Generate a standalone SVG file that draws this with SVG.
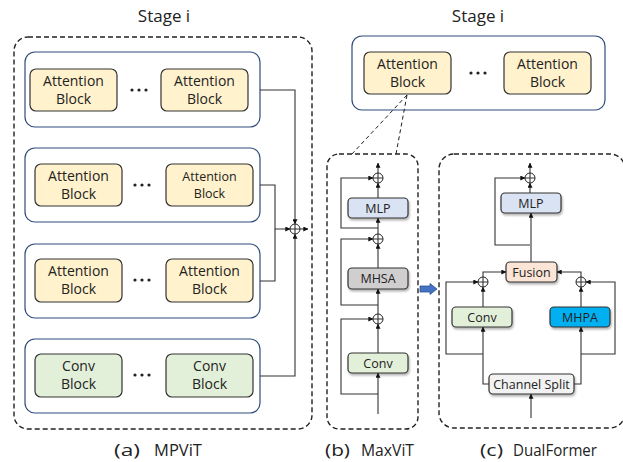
<svg xmlns="http://www.w3.org/2000/svg" width="623" height="462" viewBox="0 0 623 462">
<defs>
<marker id="ah" viewBox="0 0 8 8" refX="7.5" refY="4" markerWidth="5" markerHeight="5" orient="auto" markerUnits="userSpaceOnUse">
<path d="M0,0 L8,4 L0,8 z" fill="#111"/>
</marker>
<filter id="sh" x="-20%" y="-30%" width="140%" height="170%">
<feDropShadow dx="1" dy="2" stdDeviation="1" flood-color="#000" flood-opacity="0.3"/>
</filter>
</defs>
<style>
text{font-family:"Open Sans","Noto Sans","Liberation Sans",sans-serif;fill:#222;text-anchor:middle}
.title{font-size:17px}
.cap{font-size:15.5px;text-anchor:start}
.bt{font-size:14px}
.bts{font-size:12.5px}
.st{font-size:12.5px}
.dash{fill:none;stroke:#222;stroke-width:1.4;stroke-dasharray:5,3}
.thin{fill:none;stroke:#222;stroke-width:1;stroke-dasharray:4,3}
.grp{fill:#fff;stroke:#2F4B7C;stroke-width:1.2}
.att{fill:#FFF2CC;stroke:#333;stroke-width:1.2}
.conv{fill:#E2F0D9;stroke:#333;stroke-width:1.2}
.mlp{fill:#DAE3F3;stroke:#333;stroke-width:1.2}
.mhsa{fill:#D0CECE;stroke:#333;stroke-width:1.2}
.fus{fill:#FBE5D6;stroke:#333;stroke-width:1.2}
.mhpa{fill:#00B0F0;stroke:#333;stroke-width:1.2}
.cs{fill:#F2F2F2;stroke:#333;stroke-width:1.2}
.ln{fill:none;stroke:#333;stroke-width:1.1}
.ar{fill:none;stroke:#333;stroke-width:1.1;marker-end:url(#ah)}
.cir{fill:#fff;stroke:#222;stroke-width:1}
.dot{fill:#222}
</style>

<!-- (a) MPViT -->
<g id="mpvit">
<text class="title" x="164" y="22">Stage i</text>
<rect class="dash" x="14" y="37" width="298" height="392" rx="14"/>
</g>
<g id="a-group1">
<rect class="grp" x="25" y="52" width="235" height="75" rx="10"/>
<rect class="att" x="30" y="69" width="87" height="42" rx="6"/>
<text class="bt" x="73.5" y="86">Attention</text><text class="bt" x="73.5" y="104">Block</text>
<g class="dot"><circle cx="132" cy="90" r="1.6"/><circle cx="139" cy="90" r="1.6"/><circle cx="146" cy="90" r="1.6"/></g>
<rect class="att" x="161" y="69" width="87" height="42" rx="6"/>
<text class="bt" x="204.5" y="86">Attention</text><text class="bt" x="204.5" y="104">Block</text>
</g>
<g id="a-group2">
<rect class="grp" x="25" y="148" width="235" height="74" rx="10"/>
<rect class="att" x="35" y="164" width="87" height="42" rx="6"/>
<text class="bt" x="78.5" y="181">Attention</text><text class="bt" x="78.5" y="199">Block</text>
<g class="dot"><circle cx="135" cy="185" r="1.6"/><circle cx="142" cy="185" r="1.6"/><circle cx="149" cy="185" r="1.6"/></g>
<rect class="att" x="166" y="164" width="87" height="42" rx="6"/>
<text class="bts" x="209.5" y="181">Attention</text><text class="bts" x="209.5" y="198">Block</text>
</g>
<g id="a-group3">
<rect class="grp" x="25" y="244" width="235" height="74" rx="10"/>
<rect class="att" x="35" y="259" width="87" height="43" rx="6"/>
<text class="bt" x="78.5" y="276">Attention</text><text class="bt" x="78.5" y="294">Block</text>
<g class="dot"><circle cx="135" cy="280" r="1.6"/><circle cx="142" cy="280" r="1.6"/><circle cx="149" cy="280" r="1.6"/></g>
<rect class="att" x="166" y="259" width="87" height="43" rx="6"/>
<text class="bt" x="209.5" y="276">Attention</text><text class="bt" x="209.5" y="294">Block</text>
</g>
<g id="a-group4">
<rect class="grp" x="25" y="339" width="235" height="74" rx="10"/>
<rect class="conv" x="35" y="354" width="87" height="43" rx="6"/>
<text class="bt" x="78.5" y="371">Conv</text><text class="bt" x="78.5" y="389">Block</text>
<g class="dot"><circle cx="135" cy="375" r="1.6"/><circle cx="142" cy="375" r="1.6"/><circle cx="149" cy="375" r="1.6"/></g>
<rect class="conv" x="166" y="354" width="87" height="43" rx="6"/>
<text class="bt" x="209.5" y="371">Conv</text><text class="bt" x="209.5" y="389">Block</text>
</g>
<g id="a-sum">
<circle class="cir" cx="295" cy="229" r="5"/>
<path class="ln" d="M290,229 H300 M295,224 V234"/>
</g>

<!-- right top stage -->
<g id="stage-right">
<text class="title" x="478" y="22">Stage i</text>
<rect class="grp" x="352" y="36" width="253" height="74" rx="10"/>
<rect class="att" x="364" y="52" width="87" height="42" rx="6"/>
<text class="bt" x="407.5" y="69">Attention</text><text class="bt" x="407.5" y="87">Block</text>
<g class="dot"><circle cx="471" cy="73" r="1.6"/><circle cx="478" cy="73" r="1.6"/><circle cx="485" cy="73" r="1.6"/></g>
<rect class="att" x="504" y="52" width="87" height="42" rx="6"/>
<text class="bt" x="547.5" y="69">Attention</text><text class="bt" x="547.5" y="87">Block</text>
</g>

<!-- (b) MaxViT -->
<g id="maxvit">
<rect class="dash" x="327" y="154" width="91" height="275" rx="12"/>
<circle class="cir" cx="378" cy="178" r="5"/><path class="ln" d="M373,178 H383 M378,173 V183"/>
<circle class="cir" cx="378" cy="239" r="5"/><path class="ln" d="M373,239 H383 M378,234 V244"/>
<circle class="cir" cx="378" cy="319" r="5"/><path class="ln" d="M373,319 H383 M378,314 V324"/>
</g>
<g id="b-mlp"><rect class="mlp" x="348" y="198" width="60" height="20" rx="4" filter="url(#sh)"/><text class="st" x="378" y="212.5">MLP</text></g>
<g id="b-mhsa"><rect class="mhsa" x="348" y="268" width="60" height="21" rx="4" filter="url(#sh)"/><text class="st" x="378" y="283">MHSA</text></g>
<g id="b-conv"><rect class="conv" x="348" y="353" width="60" height="20" rx="4" filter="url(#sh)"/><text class="st" x="378" y="367.5">Conv</text></g>

<g id="arrow-blue">
<path d="M420,286 H430 V283.5 L437,289 L430,294.5 V292 H420 Z" fill="#4472C4" stroke="#2F528F" stroke-width="0.8"/>
</g>

<!-- (c) DualFormer -->
<g id="dualformer">
<rect class="dash" x="439" y="154" width="186" height="274" rx="15"/>
<circle class="cir" cx="530" cy="178" r="5"/><path class="ln" d="M525,178 H535 M530,173 V183"/>
<circle class="cir" cx="483" cy="282" r="5"/><path class="ln" d="M478,282 H488 M483,277 V287"/>
<circle class="cir" cx="581" cy="282" r="5"/><path class="ln" d="M576,282 H586 M581,277 V287"/>
</g>
<g id="c-mlp"><rect class="mlp" x="501" y="193" width="60" height="20" rx="4" filter="url(#sh)"/><text class="st" x="531" y="207.5">MLP</text></g>
<g id="c-fusion"><rect class="fus" x="506" y="262" width="51" height="20" rx="4" filter="url(#sh)"/><text class="st" x="531.5" y="276.5">Fusion</text></g>
<g id="c-conv"><rect class="conv" x="452" y="307" width="60" height="20" rx="4" filter="url(#sh)"/><text class="st" x="482" y="321.5">Conv</text></g>
<g id="c-mhpa"><rect class="mhpa" x="550" y="307" width="60" height="20" rx="4" filter="url(#sh)"/><text class="st" x="580" y="321.5">MHPA</text></g>
<g id="c-split"><rect class="cs" x="489" y="374" width="85" height="20" rx="4" filter="url(#sh)"/><text class="st" x="531.5" y="388.5">Channel Split</text></g>

<!-- connectors -->
<g id="connectors">
<path class="ar" d="M260,90 H295 V224"/>
<path class="ar" d="M260,185 H275 V229 H290"/>
<path class="ln" d="M260,281 H275 V229"/>
<path class="ar" d="M260,376 H295 V234"/>
<path class="ar" d="M300,229 H308"/>
<path class="thin" d="M407,95 L352,154 M407,95 L396,154"/>
<!-- MaxViT -->
<path class="ar" d="M378,173 V163"/>
<path class="ar" d="M378,198 V183"/>
<path class="ar" d="M378,228 H341 V178 H373"/>
<path class="ar" d="M378,234 V218"/>
<path class="ar" d="M378,268 V244"/>
<path class="ar" d="M378,305 H341 V239 H373"/>
<path class="ar" d="M378,314 V289"/>
<path class="ar" d="M378,353 V324"/>
<path class="ar" d="M378,394 H341 V319 H373"/>
<path class="ar" d="M378,414 V373"/>
<!-- DualFormer -->
<path class="ar" d="M530,173 V163"/>
<path class="ar" d="M530,193 V183"/>
<path class="ar" d="M530,245 H495 V178 H525"/>
<path class="ar" d="M531,262 V213"/>
<path class="ar" d="M483,277 V272 H506"/>
<path class="ar" d="M581,277 V272 H557"/>
<path class="ar" d="M483,307 V287"/>
<path class="ar" d="M581,307 V287"/>
<path class="ar" d="M483,354 H446 V282 H478"/>
<path class="ar" d="M581,354 H615 V282 H586"/>
<path class="ar" d="M489,384 H483 V327"/>
<path class="ar" d="M574,384 H581 V327"/>
<path class="ar" d="M531,418 V394"/>
</g>

<!-- captions -->
<g id="captions">
<text class="cap" x="114" y="456" textLength="26" lengthAdjust="spacingAndGlyphs">(a)</text><text class="cap" x="154" y="456" textLength="48" lengthAdjust="spacingAndGlyphs">MPViT</text>
<text class="cap" x="325" y="456" textLength="25" lengthAdjust="spacingAndGlyphs">(b)</text><text class="cap" x="361" y="456" textLength="53" lengthAdjust="spacingAndGlyphs">MaxViT</text>
<text class="cap" x="480" y="456" textLength="23" lengthAdjust="spacingAndGlyphs">(c)</text><text class="cap" x="513" y="456" textLength="84" lengthAdjust="spacingAndGlyphs">DualFormer</text>
</g>
</svg>
